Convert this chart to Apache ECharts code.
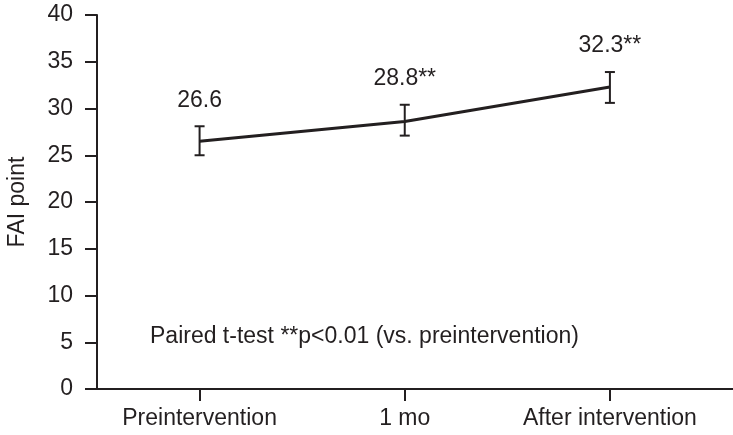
<!DOCTYPE html>
<html>
<head>
<meta charset="utf-8">
<script src="https://cdn.jsdelivr.net/npm/echarts@6/dist/echarts.min.js"></script>
<style>
html,body{margin:0;padding:0;background:#fff;}
#c{width:733px;height:435px;}
</style>
</head>
<body>
<div id="c"></div>
<script>
var categories = ['Preintervention', '1 mo', 'After intervention'];
var means = [26.5, 28.6, 32.3];
var lower = [25.0, 27.1, 30.6];
var upper = [28.1, 30.4, 33.9];
var valueLabels = ['26.6', '28.8**', '32.3**'];
var yTicks = [0, 5, 10, 15, 20, 25, 30, 35, 40];
var yName = 'FAI point';
var note = 'Paired t-test **p<0.01 (vs. preintervention)';

var INK = '#231f20';
var FONT = 'Liberation Sans, Arial, sans-serif';
var FS = 23;

var lineData = means.map(function (v, i) { return [i, v]; });
var errData = means.map(function (v, i) { return [i, lower[i], upper[i], valueLabels[i]]; });

var chart = echarts.init(document.getElementById('c'), null, {renderer: 'canvas'});
chart.setOption({
  animation: false,
  backgroundColor: '#fff',
  grid: {left: 97, right: 0, top: 15, bottom: 46, containLabel: false, outerBoundsMode: 'none'},
  xAxis: {
    type: 'value',
    min: -0.5,
    max: 2.6,
    splitLine: {show: false},
    axisLine: {show: true, onZero: false, lineStyle: {color: INK, width: 2}},
    axisTick: {show: true, length: 12, customValues: [0, 1, 2], lineStyle: {color: INK, width: 2}},
    axisLabel: {
      show: true, customValues: [0, 1, 2], margin: 18,
      color: INK, fontFamily: FONT, fontSize: FS,
      formatter: function (v) { return categories[Math.round(v)]; }
    }
  },
  yAxis: {
    type: 'value',
    min: 0, max: 40, interval: 5,
    name: yName,
    nameLocation: 'middle',
    nameGap: 68,
    nameTextStyle: {color: INK, fontFamily: FONT, fontSize: FS},
    splitLine: {show: false},
    axisLine: {show: true, onZero: false, lineStyle: {color: INK, width: 2}},
    axisTick: {show: true, length: 12, lineStyle: {color: INK, width: 2}},
    axisLabel: {
      margin: 24, color: INK, fontFamily: FONT, fontSize: FS,
      formatter: function (v) { return yTicks.indexOf(v) >= 0 ? String(v) : ''; }
    }
  },
  graphic: [{
    type: 'text',
    left: 150,
    top: 325,
    style: {text: note, fill: INK, font: FS + 'px ' + FONT}
  }],
  series: [
    {
      type: 'line',
      data: lineData,
      showSymbol: false,
      symbol: 'none',
      lineStyle: {color: INK, width: 3},
      z: 3
    },
    {
      type: 'custom',
      data: errData,
      z: 4,
      renderItem: function (params, api) {
        var x = api.value(0);
        var lo = api.coord([x, api.value(1)]);
        var hi = api.coord([x, api.value(2)]);
        var hw = 5;
        var st = {stroke: INK, lineWidth: 2};
        return {
          type: 'group',
          children: [
            {type: 'line', shape: {x1: lo[0], y1: lo[1], x2: hi[0], y2: hi[1]}, style: st},
            {type: 'line', shape: {x1: lo[0] - hw, y1: lo[1], x2: lo[0] + hw, y2: lo[1]}, style: st},
            {type: 'line', shape: {x1: hi[0] - hw, y1: hi[1], x2: hi[0] + hw, y2: hi[1]}, style: st},
            {type: 'text', x: hi[0], y: hi[1] - 26,
              style: {text: valueLabels[params.dataIndex], fill: INK, font: FS + 'px ' + FONT,
                      align: 'center', verticalAlign: 'middle'}}
          ]
        };
      }
    }
  ]
});
</script>
</body>
</html>
